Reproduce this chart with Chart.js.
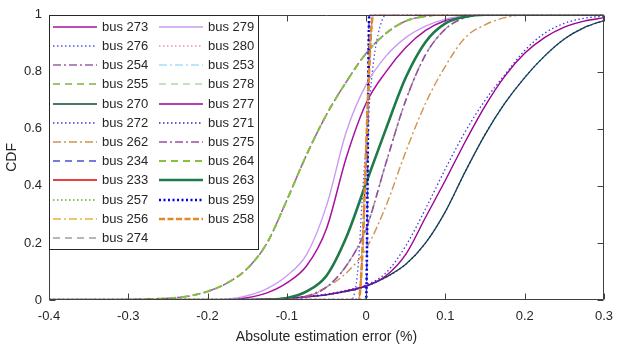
<!DOCTYPE html>
<html><head><meta charset="utf-8">
<script src="https://cdn.jsdelivr.net/npm/chart.js@4/dist/chart.umd.min.js"></script>
<style>html,body{margin:0;padding:0;background:#fff}#wrap{width:622px;height:349px;position:relative}</style>
</head><body><div id="wrap"><canvas id="c" width="622" height="349"></canvas></div>
<script>
// ---- data ----
const xGrid = [-0.4,-0.375,-0.35,-0.325,-0.3,-0.275,-0.25,-0.225,-0.2,-0.175,-0.15,-0.125,-0.1,-0.075,-0.05,-0.025,0,0.025,0.05,0.075,0.1,0.125,0.15,0.175,0.2,0.225,0.25,0.275,0.3];
const xTicks = [-0.4,-0.3,-0.2,-0.1,0,0.1,0.2,0.3];
const yTicks = [0,0.2,0.4,0.6,0.8,1];
const xTickLabels = ['-0.4','-0.3','-0.2','-0.1','0','0.1','0.2','0.3'];
const yTickLabels = ['0','0.2','0.4','0.6','0.8','1'];

// CDF values on xGrid
const curveA = [0,0,0,0,0.001,0.003,0.006,0.013,0.03,0.06,0.11,0.2,0.35,0.51,0.65,0.765,0.865,0.935,0.978,0.995,1,1,1,1,1,1,1,1,1];
const curveB = [0,0,0,0,0,0,0,0,0,0.003,0.015,0.04,0.085,0.16,0.33,0.59,0.755,0.855,0.92,0.96,0.985,0.996,1,1,1,1,1,1,1];
const curveC = [0,0,0,0,0,0,0,0,0,0.001,0.008,0.025,0.06,0.12,0.25,0.5,0.69,0.8,0.885,0.945,0.98,0.995,1,1,1,1,1,1,1];
const curveD = [0,0,0,0,0,0,0,0,0,0,0,0.001,0.007,0.03,0.085,0.22,0.41,0.6,0.78,0.905,0.97,0.993,1,1,1,1,1,1,1];
const curveE = [0,0,0,0,0,0,0,0,0,0,0,0,0.002,0.012,0.045,0.12,0.25,0.48,0.7,0.86,0.95,0.99,1,1,1,1,1,1,1];
const curveF = [0,0,0,0,0,0,0,0,0,0,0,0.001,0.004,0.015,0.045,0.095,0.18,0.33,0.52,0.69,0.82,0.92,0.965,0.99,1,1,1,1,1];
const curveG = [0,0,0,0,0,0,0,0,0,0,0.001,0.003,0.006,0.011,0.018,0.03,0.048,0.08,0.125,0.2,0.31,0.45,0.58,0.69,0.78,0.855,0.915,0.955,0.98];
const curveH = [0,0,0,0,0,0,0,0,0,0,0.001,0.003,0.006,0.011,0.019,0.032,0.05,0.085,0.16,0.29,0.42,0.555,0.68,0.785,0.865,0.92,0.957,0.978,0.99];
const curveI = [0,0,0,0,0,0,0,0,0,0,0.001,0.003,0.007,0.013,0.021,0.034,0.053,0.095,0.19,0.32,0.46,0.59,0.7,0.79,0.875,0.935,0.97,0.988,0.995];
// steep curves near zero, with their own x points
const steepJx = [-0.4,-0.0095,0.009,0.3];
const steepJy = [0,0,1,1];
const steepKx = [-0.4,0,0.004,0.3];
const steepKy = [0,0,1,1];
const steepLx = [-0.4,-0.02,-0.015,-0.01,-0.005,0,0.005,0.01,0.015,0.02,0.025,0.3];
const steepLy = [0,0,0.02,0.12,0.35,0.55,0.72,0.85,0.93,0.98,1,1];

const busLabels = ['bus 273','bus 276','bus 254','bus 255','bus 270','bus 272','bus 262','bus 234','bus 233','bus 257','bus 256','bus 274',
                   'bus 279','bus 280','bus 253','bus 278','bus 277','bus 271','bus 275','bus 264','bus 263','bus 259','bus 258'];
const A=[xGrid,curveA],B=[xGrid,curveB],C=[xGrid,curveC],D=[xGrid,curveD],E=[xGrid,curveE],F=[xGrid,curveF],
      G=[xGrid,curveG],H=[xGrid,curveH],I=[xGrid,curveI],J=[steepJx,steepJy],K=[steepKx,steepKy],L=[steepLx,steepLy];
const busCurves = [C,L,A,A,G,I,F,K,J,J,J,E, B,J,J,D,H,G,E,A,D,K,J];

// ---- styles ----
const DASH = [7,5], DOT = [1.5,2.5], DASHDOT = [8,3,2,3], SOLID = [];
const busStyles = [
  {c:'#a8109f', w:1.5, d:SOLID},
  {c:'#4d55f0', w:1.3, d:DOT},
  {c:'#9b62a8', w:1.6, d:DASHDOT},
  {c:'#80b040', w:1.4, d:DASH},
  {c:'#0c4b2c', w:1.3, d:SOLID},
  {c:'#3a3ad8', w:1.3, d:DOT},
  {c:'#d0924e', w:1.4, d:DASHDOT},
  {c:'#4a50d0', w:1.4, d:DASH},
  {c:'#e00000', w:1.3, d:SOLID},
  {c:'#6aa82a', w:1.3, d:DOT},
  {c:'#e4b23e', w:1.4, d:DASHDOT},
  {c:'#a0a0a0', w:1.4, d:DASH},
  {c:'#c99cf2', w:1.4, d:SOLID},
  {c:'#ff8ca0', w:1.3, d:DOT},
  {c:'#a9dcf6', w:1.6, d:DASHDOT},
  {c:'#a8dca8', w:1.4, d:DASH},
  {c:'#9a0096', w:1.4, d:SOLID},
  {c:'#2828b4', w:1.3, d:DOT},
  {c:'#9650a0', w:1.6, d:DASHDOT},
  {c:'#88c040', w:2.0, d:DASH},
  {c:'#1f7a4a', w:2.6, d:SOLID},
  {c:'#0000e6', w:2.6, d:[2,2.5]},
  {c:'#e08a2a', w:2.6, d:[6,2.5]}
];

const datasets = busLabels.map((lab,i)=>({
  label: lab,
  data: busCurves[i][0].map((x,k)=>({x:x, y:busCurves[i][1][k]})),
  borderColor: busStyles[i].c,
  borderWidth: busStyles[i].w,
  borderDash: busStyles[i].d,
  pointRadius: 0,
  fill: false,
  cubicInterpolationMode: 'monotone',
  order: -i
}));

const FONT = "'Liberation Sans', Arial, Helvetica, sans-serif";
const AX = '#404040';

const framePlugin = {
  id: 'frame',
  afterDatasetsDraw(chart){
    const {ctx, chartArea:a, scales:{x, y}} = chart;
    ctx.save();
    ctx.strokeStyle = AX; ctx.lineWidth = 1; ctx.setLineDash([]);
    const L = Math.round(a.left)+0.5, R = Math.round(a.right)-0.5, T = Math.round(a.top)+0.5, B = Math.round(a.bottom)-0.5;
    ctx.beginPath();
    ctx.rect(L, T, R-L, B-T);
    xTicks.forEach(v=>{ const p = Math.round(x.getPixelForValue(v))+0.5; ctx.moveTo(p,B); ctx.lineTo(p,B-6); ctx.moveTo(p,T); ctx.lineTo(p,T+6); });
    yTicks.forEach(v=>{ const p = Math.round(y.getPixelForValue(v))+0.5; ctx.moveTo(L,p); ctx.lineTo(L+6,p); ctx.moveTo(R,p); ctx.lineTo(R-6,p); });
    ctx.stroke();
    ctx.restore();
  },
  afterDraw(chart){
    const {ctx, chartArea:a} = chart;
    const bx = Math.round(a.left)+0.5, by = Math.round(a.top)+0.5, bw = 209, bh = 234;
    ctx.save();
    ctx.fillStyle = '#fff';
    ctx.fillRect(bx, by, bw, bh);
    ctx.strokeStyle = '#262626'; ctx.lineWidth = 1; ctx.setLineDash([]);
    ctx.strokeRect(bx, by, bw, bh);
    ctx.font = '13px ' + FONT;
    ctx.textBaseline = 'middle';
    ctx.textAlign = 'left';
    const ds = chart.data.datasets;
    ds.forEach((d,i)=>{
      const col = i < 12 ? 0 : 1;
      const row = i < 12 ? i : i - 12;
      const yy = Math.round(a.top + 12 + row*19.2);
      const x0 = col === 0 ? a.left + 4 : a.left + 110;
      const x1 = x0 + 44;
      ctx.strokeStyle = d.borderColor; ctx.lineWidth = d.borderWidth;
      ctx.setLineDash(d.borderDash);
      ctx.beginPath(); ctx.moveTo(x0, yy); ctx.lineTo(x1, yy); ctx.stroke();
      ctx.setLineDash([]);
      ctx.fillStyle = '#262626';
      ctx.fillText(d.label, x1 + 5, yy + 0.5);
    });
    ctx.restore();
  }
};

new Chart(document.getElementById('c'), {
  type: 'line',
  data: { datasets },
  options: {
    responsive: false,
    animation: false,
    devicePixelRatio: 1,
    layout: { padding: { left: 0, right: 9, top: 12, bottom: 0 } },
    plugins: { legend: { display: false }, tooltip: { enabled: false } },
    scales: {
      x: {
        type: 'linear', min: -0.4, max: 0.3,
        grid: { display: false, drawTicks: false },
        border: { display: false },
        afterBuildTicks: s => { s.ticks = xTicks.map(v=>({value:v})); },
        afterFit: s => { s.height = 49; },
        ticks: { padding: 9, color: '#262626', font: { family: FONT, size: 13 }, maxRotation: 0, autoSkip: false,
                 callback: (v) => { const i = xTicks.findIndex(t=>Math.abs(t-v)<1e-9); return i>=0 ? xTickLabels[i] : ''; } },
        title: { display: true, text: 'Absolute estimation error (%)', color: '#262626', font: { family: FONT, size: 14 }, padding: { top: 0, bottom: 3 } }
      },
      y: {
        type: 'linear', min: 0, max: 1,
        grid: { display: false, drawTicks: false },
        border: { display: false },
        afterBuildTicks: s => { s.ticks = yTicks.map(v=>({value:v})); },
        afterFit: s => { s.width = 49; },
        ticks: { padding: 7, color: '#262626', font: { family: FONT, size: 13 },
                 callback: (v) => { const i = yTicks.findIndex(t=>Math.abs(t-v)<1e-9); return i>=0 ? yTickLabels[i] : ''; } },
        title: { display: true, text: 'CDF', color: '#262626', font: { family: FONT, size: 14 }, padding: { top: 4, bottom: 0 } }
      }
    }
  },
  plugins: [framePlugin]
});
</script>
</body></html>
